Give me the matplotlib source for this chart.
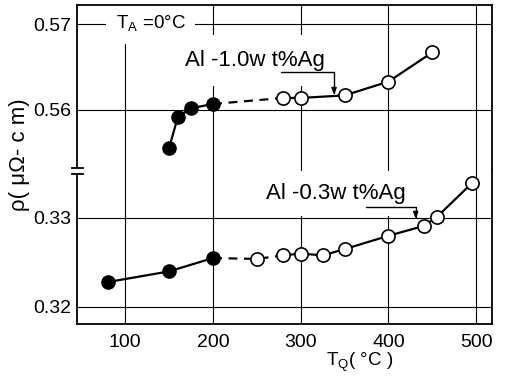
import matplotlib
matplotlib.use('Agg')
import matplotlib.pyplot as plt
from matplotlib.lines import Line2D
from matplotlib.patches import Rectangle

plt.rcParams['font.family'] = ['Liberation Sans', 'DejaVu Sans']
plt.rcParams['mathtext.fontset'] = 'custom'
plt.rcParams['mathtext.rm'] = 'Liberation Sans'

# Al-1.0wt%Ag  (quench temperature degC, resistivity uOhm-cm)
hi_filled_t = [150, 160, 175, 200]
hi_filled_r = [0.5556, 0.5592, 0.5602, 0.5607]
hi_open_t = [280, 300, 350, 400, 450]
hi_open_r = [0.5614, 0.5614, 0.5617, 0.5633, 0.5667]

# Al-0.3wt%Ag
lo_filled_t = [80, 150, 200]
lo_filled_r = [0.3228, 0.3240, 0.3255]
lo_open_t = [250, 280, 300, 325, 350, 400, 440, 455, 495]
lo_open_r = [0.3254, 0.3258, 0.3260, 0.3258, 0.3265, 0.3280, 0.3291, 0.3301, 0.3339]

x_ticks = [100, 200, 300, 400, 500]
hi_ticks = [0.56, 0.57]
lo_ticks = [0.32, 0.33]

W, H = 511, 377
fig = plt.figure(figsize=(W / 100, H / 100), dpi=100)
left, right = 77 / W, 492 / W
top, brk, bot = 1 - 5 / H, 1 - 170 / H, 1 - 324 / H
ax1 = fig.add_axes([left, brk, right - left, top - brk])
ax2 = fig.add_axes([left, bot, right - left, brk - bot], sharex=ax1)

ax1.set_xlim(45, 518)
ax1.set_ylim(0.55302, 0.57221)
ax2.set_ylim(0.31809, 0.33539)

for ax in (ax1, ax2):
    ax.set_xticks(x_ticks)
    ax.grid(True, color='black', lw=0.8)
    ax.set_axisbelow(True)
    ax.tick_params(length=0, labelsize=14, pad=4)
    for s in ax.spines.values():
        s.set_linewidth(1.3)
ax1.set_yticks(hi_ticks)
ax1.set_yticklabels(['0.56', '0.57'])
ax2.set_yticks(lo_ticks)
ax2.set_yticklabels(['0.32', '0.33'])
ax1.tick_params(labelbottom=False)
ax2.tick_params(axis='x', pad=7)
ax1.spines['bottom'].set_visible(False)
ax2.spines['top'].set_visible(False)

lw = 1.6
ms = 9.5
# upper curve
ax1.plot(hi_filled_t, hi_filled_r, '-', color='black', lw=lw, zorder=3)
ax1.plot([hi_filled_t[-1], hi_open_t[0]], [hi_filled_r[-1], hi_open_r[0]],
         '--', color='black', lw=lw, dashes=(4, 3), zorder=3)
ax1.plot(hi_open_t, hi_open_r, '-', color='black', lw=lw, zorder=3)
ax1.plot(hi_filled_t, hi_filled_r, 'o', color='black', ms=ms, zorder=4)
ax1.plot(hi_open_t, hi_open_r, 'o', mfc='white', mec='black', mew=1.2, ms=ms, zorder=4)

# lower curve
ax2.plot(lo_filled_t, lo_filled_r, '-', color='black', lw=lw, zorder=3)
ax2.plot([lo_filled_t[-1]] + lo_open_t[:2], [lo_filled_r[-1]] + lo_open_r[:2],
         '--', color='black', lw=lw, dashes=(4, 3), zorder=3)
ax2.plot(lo_open_t[1:], lo_open_r[1:], '-', color='black', lw=lw, zorder=3)
ax2.plot(lo_filled_t, lo_filled_r, 'o', color='black', ms=ms, zorder=4)
ax2.plot(lo_open_t, lo_open_r, 'o', mfc='white', mec='black', mew=1.2, ms=ms, zorder=4)

# labels
white = dict(facecolor='white', edgecolor='none', pad=7)
ax1.text(89, 0.57, r'T$_\mathrm{A}$ =0°C', fontsize=13.5, va='center', ha='left',
         bbox=white, zorder=2)
ax1.text(168, 0.5651, 'Al -1.0w t%Ag', fontsize=16, va='baseline', ha='left',
         bbox=dict(facecolor='white', edgecolor='none', pad=11), zorder=2)
ax1.annotate('', xy=(338, 0.56174), xytext=(277, 0.56442),
             arrowprops=dict(arrowstyle='-|>,head_length=0.4,head_width=0.15', color='black',
                             lw=1.0, shrinkA=0, shrinkB=0,
                             connectionstyle='angle,angleA=0,angleB=90,rad=0'),
             zorder=5)
ax2.text(260, 0.33213, 'Al -0.3w t%Ag', fontsize=16, va='baseline', ha='left',
         bbox=dict(facecolor='white', edgecolor='none', pad=9), zorder=2)
ax2.annotate('', xy=(431, 0.32989), xytext=(374, 0.33124),
             arrowprops=dict(arrowstyle='-|>,head_length=0.4,head_width=0.15', color='black',
                             lw=1.0, shrinkA=0, shrinkB=0,
                             connectionstyle='angle,angleA=0,angleB=90,rad=0'),
             zorder=5)

fig.text(20 / W, 1 - 155 / H, 'ρ( μΩ- c m)', rotation=90, fontsize=16,
         ha='center', va='center')
fig.text(360 / W, 1 - 362 / H, r'T$_\mathrm{Q}$( °C )', fontsize=13.5,
         ha='center', va='center')

# axis break marks on the left spine
fig.patches.append(Rectangle((left - 2 / W, 1 - 173 / H), 4 / W, 5 / H,
                             transform=fig.transFigure, facecolor='white',
                             edgecolor='none', zorder=10))
for yy in (167.5, 173.5):
    fig.lines.append(Line2D([72 / W, 83 / W], [1 - yy / H, 1 - yy / H],
                            transform=fig.transFigure, color='black', lw=1.3,
                            zorder=11))

fig.savefig('out.png', dpi=100)
